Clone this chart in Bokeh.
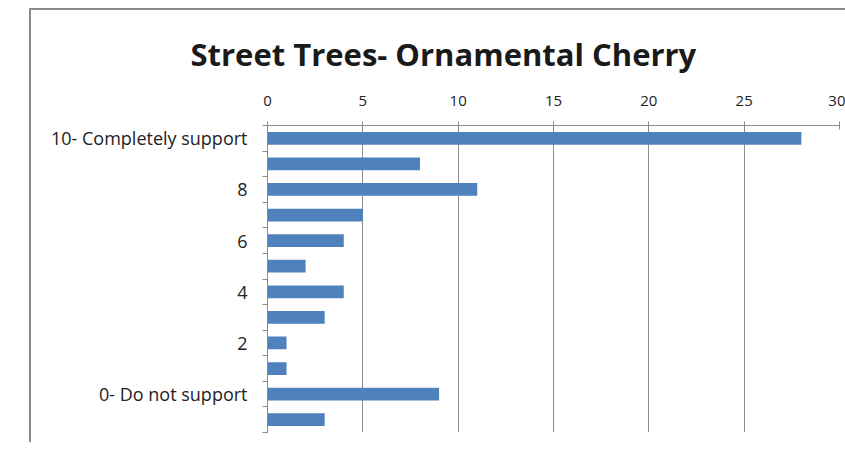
from bokeh.plotting import figure
from bokeh.models import Range1d, FixedTicker, ColumnDataSource, Title
from bokeh.embed import file_html
from bokeh.resources import INLINE

# ---- data ----
categories = ["10- Completely support", "9", "8", "7", "6", "5", "4", "3", "2", "1",
              "0- Do not support", "No response"]
counts = [28, 8, 11, 5, 4, 2, 4, 3, 1, 1, 9, 3]
shown_labels = ["10- Completely support", "8", "6", "4", "2", "0- Do not support"]
x_ticks = [0, 5, 10, 15, 20, 25, 30]
title_text = "Street Trees- Ornamental Cherry"

pos = [i + 0.5 for i in range(len(categories))]
src = ColumnDataSource(dict(y=pos, v=counts, cat=categories))

p = figure(width=816, height=434, output_backend="svg", toolbar_location=None,
           x_range=Range1d(0, 30), y_range=Range1d(len(categories), 0),
           x_axis_location="above",
           min_border_left=236, min_border_right=8, min_border_top=115,
           min_border_bottom=12)
p.margin = (8, 0, 0, 29)
p.styles = {"border-left": "2px solid #8c8c8c", "border-top": "2px solid #8c8c8c"}

p.hbar(y="y", right="v", left=0, height=0.5, source=src,
       fill_color="#4F81BD", line_color=None)

p.title = Title(text=title_text, text_font="Open Sans", text_font_size="31px",
                text_font_style="bold", text_color="#1a1a1a", align="left",
                offset=-77, standoff=35)

p.outline_line_color = None
p.background_fill_color = "white"

# x axis (top)
xa = p.xaxis[0]
xa.ticker = FixedTicker(ticks=x_ticks)
xa.axis_line_color = "#8c8c8c"
xa.major_tick_line_color = "#8c8c8c"
xa.major_tick_in = 4
xa.major_tick_out = 4
xa.minor_tick_line_color = None
xa.major_label_text_font = "Open Sans"
xa.major_label_text_font_size = "15px"
xa.major_label_text_color = "#222222"
xa.major_label_standoff = 16

# y axis
ya = p.yaxis[0]
label_pos = [pos[categories.index(c)] for c in shown_labels]
ya.ticker = FixedTicker(ticks=label_pos,
                        minor_ticks=list(range(len(categories) + 1)))
ya.major_label_overrides = {pp: c for pp, c in zip(label_pos, shown_labels)}
ya.axis_line_color = "#8c8c8c"
ya.major_tick_line_color = None
ya.major_tick_out = 6
ya.minor_tick_line_color = "#8c8c8c"
ya.minor_tick_out = 5
ya.minor_tick_in = 0
ya.major_label_text_font = "Open Sans"
ya.major_label_text_font_size = "18px"
ya.major_label_text_color = "#222222"
ya.major_label_standoff = 14

p.xgrid.ticker = FixedTicker(ticks=x_ticks)
p.xgrid.grid_line_color = "#8c8c8c"
p.ygrid.grid_line_color = None

open("out.html", "w").write(file_html(p, INLINE))
